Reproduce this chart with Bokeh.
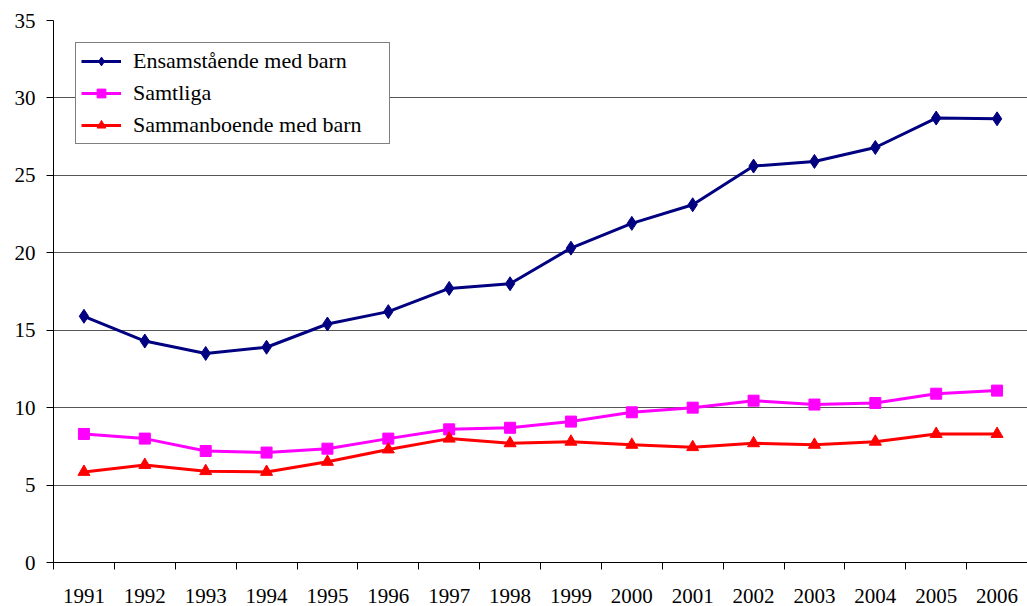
from bokeh.plotting import figure
from bokeh.models import (Range1d, FixedTicker, CustomJSTickFormatter, Legend, LegendItem)
from bokeh.embed import file_html
from bokeh.resources import INLINE

years = ["1991", "1992", "1993", "1994", "1995", "1996", "1997", "1998",
         "1999", "2000", "2001", "2002", "2003", "2004", "2005", "2006"]
ensamstaende = [15.9, 14.3, 13.5, 13.9, 15.4, 16.2, 17.7, 18.0,
                20.3, 21.9, 23.1, 25.6, 25.9, 26.8, 28.7, 28.65]
samtliga = [8.3, 8.0, 7.2, 7.1, 7.35, 8.0, 8.6, 8.7,
            9.1, 9.7, 10.0, 10.45, 10.2, 10.3, 10.9, 11.1]
sammanboende = [5.85, 6.3, 5.9, 5.85, 6.5, 7.3, 8.0, 7.7,
                7.8, 7.6, 7.45, 7.7, 7.6, 7.8, 8.3, 8.3]
series_names = ["Ensamstående med barn", "Samtliga", "Sammanboende med barn"]
y_ticks = [0, 5, 10, 15, 20, 25, 30, 35]

n = len(years)
xs = [i + 0.5 for i in range(n)]

p = figure(width=1027, height=606, output_backend="svg", toolbar_location=None,
           x_range=Range1d(0, n), y_range=Range1d(0, 35),
           min_border_left=53, min_border_top=20, min_border_right=0, min_border_bottom=44)
p.outline_line_color = None
p.background_fill_color = "white"
p.border_fill_color = "white"

font = "Liberation Serif"

# x axis
p.xaxis.ticker = FixedTicker(ticks=xs, minor_ticks=list(range(n + 1)))
p.xaxis.formatter = CustomJSTickFormatter(args=dict(labels=years),
                                          code="return labels[Math.floor(tick)];")
p.xaxis.major_tick_line_color = None
p.xaxis.major_tick_out = 0
p.xaxis.major_tick_in = 0
p.xaxis.minor_tick_line_color = "black"
p.xaxis.minor_tick_out = 7
p.xaxis.minor_tick_in = 0
p.xaxis.major_label_standoff = 19
p.xaxis.axis_line_color = "black"
p.xaxis.major_label_text_font = font
p.xaxis.major_label_text_font_size = "21px"
p.xaxis.major_label_text_color = "black"

# y axis
p.yaxis.ticker = FixedTicker(ticks=y_ticks)
p.yaxis.major_tick_out = 7
p.yaxis.major_tick_in = 0
p.yaxis.minor_tick_line_color = None
p.yaxis.major_label_standoff = 11
p.yaxis.axis_line_color = "black"
p.yaxis.major_label_text_font = font
p.yaxis.major_label_text_font_size = "21px"
p.yaxis.major_label_text_color = "black"

p.xgrid.grid_line_color = None
p.ygrid.ticker = FixedTicker(ticks=y_ticks)
p.ygrid.grid_line_color = "#555555"
p.ygrid.grid_line_width = 1

items = []
l1 = p.line(xs, ensamstaende, line_color="#000080", line_width=3)
m1 = p.scatter(xs, ensamstaende, marker="diamond", size=14,
               fill_color="#000080", line_color="#000080")
items.append(LegendItem(label=series_names[0], renderers=[l1, m1]))

l2 = p.line(xs, samtliga, line_color="#FF00FF", line_width=3)
m2 = p.scatter(xs, samtliga, marker="square", size=11,
               fill_color="#FF00FF", line_color="#FF00FF")
items.append(LegendItem(label=series_names[1], renderers=[l2, m2]))

l3 = p.line(xs, sammanboende, line_color="#FF0000", line_width=3)
m3 = p.scatter(xs, sammanboende, marker="triangle", size=12,
               fill_color="#FF0000", line_color="#FF0000")
items.append(LegendItem(label=series_names[2], renderers=[l3, m3]))

legend = Legend(items=items, location="top_left", margin=22, padding=5,
                spacing=6, glyph_width=40, glyph_height=22, label_height=22,
                label_standoff=12, label_width=251,
                label_text_font=font, label_text_font_size="22px",
                label_text_color="black",
                border_line_color="black", border_line_width=1,
                background_fill_color="white", background_fill_alpha=1)
p.add_layout(legend)

open("out.html", "w").write(file_html(p, INLINE))
